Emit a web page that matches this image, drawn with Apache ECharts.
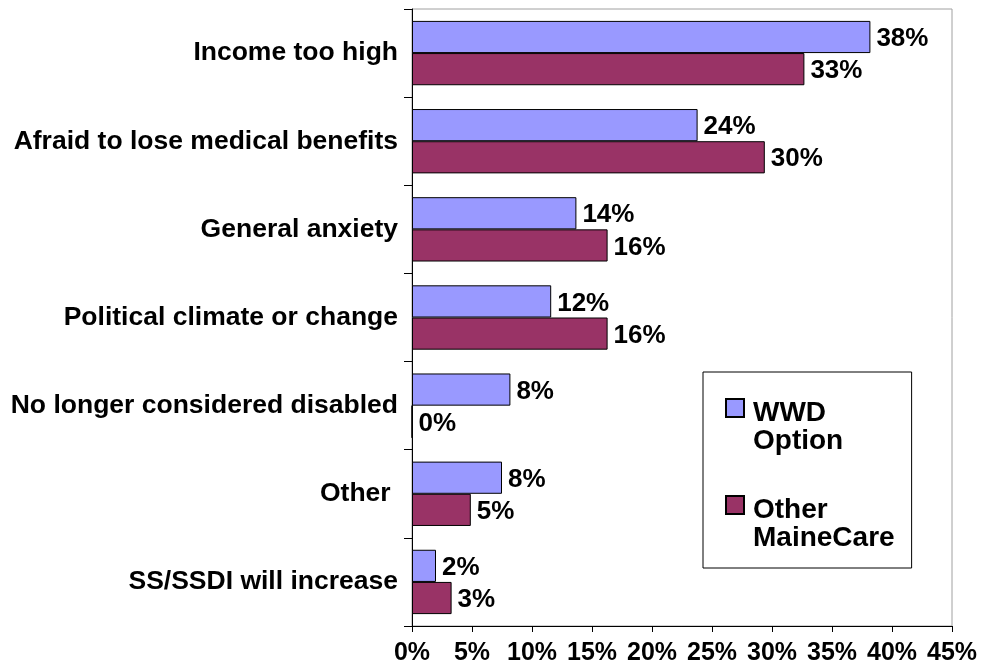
<!DOCTYPE html>
<html>
<head>
<meta charset="utf-8">
<script src="https://cdn.jsdelivr.net/npm/echarts@6/dist/echarts.min.js"></script>
<style>
  html, body { margin: 0; padding: 0; background: #fff; }
  #main { width: 992px; height: 666px; }
</style>
</head>
<body>
<div id="main"></div>
<script>
// Reasons, top to bottom
const categories = [
  'Income too high',
  'Afraid to lose medical benefits',
  'General anxiety',
  'Political climate or change',
  'No longer considered disabled',
  'Other ',
  'SS/SSDI will increase'
];

// Bar lengths (percent) as drawn
const wwdValues = [38.2, 23.8, 13.7, 11.6, 8.2, 7.5, 2.0];
const otherValues = [32.7, 29.4, 16.3, 16.3, 0, 4.9, 3.3];

// Printed labels
const wwdLabels = ['38%', '24%', '14%', '12%', '8%', '8%', '2%'];
const otherLabels = ['33%', '30%', '16%', '16%', '0%', '5%', '3%'];

const seriesNames = ['WWD\nOption', 'Other\nMaineCare'];
const FONT = 'Liberation Sans, Arial, sans-serif';

// legend square sits on the first text line
const legendIcon = 'path://M0,0h18v18h-18z M0,57';

const makeSeries = (name, values, labels, color) => ({
  name: name,
  type: 'bar',
  data: values,
  barGap: '0%',
  barCategoryGap: '27%',
  itemStyle: {
    color: color,
    borderColor: '#000',
    borderWidth: 1
  },
  label: {
    show: true,
    position: 'right',
    distance: 6,
    offset: [0, 2],
    color: '#000',
    fontFamily: FONT,
    fontWeight: 'bold',
    fontSize: 26,
    formatter: (p) => labels[p.dataIndex]
  },
  emphasis: { disabled: true }
});

const option = {
  animation: false,
  backgroundColor: '#fff',
  grid: {
    left: 412,
    right: 40,
    top: 9,
    bottom: 40,
    show: true,
    borderColor: '#a0a0a0',
    borderWidth: 1
  },
  legend: {
    orient: 'vertical',
    left: 703,
    top: 372,
    padding: [26, 17, 14, 22],
    itemGap: 38,
    itemWidth: 18,
    itemHeight: 57,
    icon: legendIcon,
    backgroundColor: '#fff',
    borderColor: '#000',
    borderWidth: 1,
    textStyle: {
      color: '#000',
      fontFamily: FONT,
      fontWeight: 'bold',
      fontSize: 28,
      lineHeight: 28,
      padding: [0, 0, 0, 4]
    }
  },
  xAxis: {
    type: 'value',
    min: 0,
    max: 45,
    interval: 5,
    axisLine: { show: true, lineStyle: { color: '#000' } },
    axisTick: { show: true, length: 6, lineStyle: { color: '#000' } },
    splitLine: { show: false },
    axisLabel: {
      color: '#000',
      fontFamily: FONT,
      fontWeight: 'bold',
      fontSize: 25,
      margin: 15,
      formatter: '{value}%'
    }
  },
  yAxis: {
    type: 'category',
    inverse: true,
    data: categories,
    axisLine: { show: true, lineStyle: { color: '#000' } },
    axisTick: { show: true, length: 8, lineStyle: { color: '#000' } },
    axisLabel: {
      color: '#000',
      fontFamily: FONT,
      fontWeight: 'bold',
      fontSize: 26.5,
      margin: 14
    }
  },
  series: [
    makeSeries(seriesNames[0], wwdValues, wwdLabels, '#9999ff'),
    makeSeries(seriesNames[1], otherValues, otherLabels, '#993366')
  ]
};

const chart = echarts.init(document.getElementById('main'));
chart.setOption(option);
</script>
</body>
</html>
